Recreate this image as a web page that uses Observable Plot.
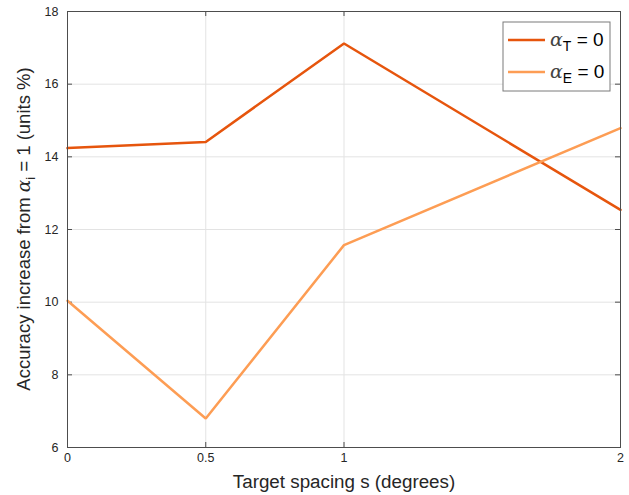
<!DOCTYPE html>
<html><head><meta charset="utf-8">
<script src="https://cdn.jsdelivr.net/npm/d3@7"></script>
<script src="https://cdn.jsdelivr.net/npm/@observablehq/plot@0.6"></script>
<style>body{margin:0;background:#fff} #chart{width:629px;height:495px}</style>
</head><body><div id="chart"></div>
<script>
const spacing = [0, 0.5, 1, 2];
const alphaT0 = [14.24, 14.41, 17.12, 12.54];
const alphaE0 = [10.04, 6.80, 11.57, 14.79];
const seriesKeys = ["T", "E"];
const seriesColors = ["#e6550d", "#fd9d54"];
const xTicks = [0, 0.5, 1, 2];
const yTicks = [6, 8, 10, 12, 14, 16, 18];
const xLabel = "Target spacing s (degrees)";

const rows = [];
spacing.forEach((s, i) => rows.push({s, v: alphaT0[i], k: "T"}));
spacing.forEach((s, i) => rows.push({s, v: alphaE0[i], k: "E"}));

const W = 629, H = 495, ML = 67, MR = 9, MT = 11, MB = 48;
const fw = W - ML - MR, fh = H - MT - MB;
const axisCol = "#4d4d4d";
const FONT = "'Liberation Sans', Arial, sans-serif";

const chart = Plot.plot({
  width: W, height: H,
  marginLeft: ML, marginRight: MR, marginTop: MT, marginBottom: MB,
  style: {fontFamily: FONT, background: "#fff"},
  x: {domain: [0, 2], axis: null},
  y: {domain: [6, 18], axis: null},
  color: {domain: seriesKeys, range: seriesColors},
  marks: [
    Plot.gridX(xTicks, {stroke: "#e3e3e3", strokeOpacity: 1}),
    Plot.gridY(yTicks, {stroke: "#e3e3e3", strokeOpacity: 1}),
    Plot.text(xTicks, {x: d => d, frameAnchor: "bottom", dy: 14, text: d => String(d), fontSize: 12.5, fill: "#262626", textAnchor: "middle"}),
    Plot.text(yTicks, {y: d => d, frameAnchor: "left", dx: -9, text: d => String(d), fontSize: 12.5, fill: "#262626", textAnchor: "end"}),
    Plot.tickX(xTicks, {x: d => d, insetTop: fh - 5, stroke: axisCol}),
    Plot.tickX(xTicks, {x: d => d, insetBottom: fh - 5, stroke: axisCol}),
    Plot.tickY(yTicks, {y: d => d, insetRight: fw - 5, stroke: axisCol}),
    Plot.tickY(yTicks, {y: d => d, insetLeft: fw - 5, stroke: axisCol}),
    Plot.line(rows, {x: "s", y: "v", z: "k", stroke: "k", strokeWidth: 2.5, strokeLinejoin: "miter"}),
    Plot.frame({stroke: axisCol, strokeWidth: 1}),
    Plot.text([xLabel], {frameAnchor: "bottom", dy: 34, text: d => d, fontSize: 18.8, fill: "#262626", lineAnchor: "middle"})
  ]
});
document.getElementById("chart").appendChild(chart);

const svg = d3.select(chart);
// Y axis label with subscript
const yl = svg.append("text")
  .attr("transform", `translate(30,${MT + fh / 2}) rotate(-90)`)
  .attr("text-anchor", "middle")
  .attr("font-size", 18.5).attr("fill", "#262626")
  .attr("font-family", FONT);
yl.append("tspan").text("Accuracy increase from ");
yl.append("tspan").text("α").attr("font-family", "'DejaVu Serif', serif").attr("font-style", "italic");
yl.append("tspan").text("i").attr("font-size", 13).attr("dy", 5);
yl.append("tspan").text(" = 1 (units %)").attr("dy", -5);

// Legend
const lg = svg.append("g").attr("transform", "translate(503,22)");
lg.append("rect").attr("width", 107).attr("height", 69).attr("fill", "#fff").attr("stroke", "#7a7a7a").attr("stroke-width", 1);
seriesKeys.forEach((k, i) => {
  const y = 18 + i * 32;
  lg.append("line").attr("x1", 5).attr("x2", 42).attr("y1", y).attr("y2", y)
    .attr("stroke", seriesColors[i]).attr("stroke-width", 2.5);
  const t = lg.append("text").attr("x", 47).attr("y", y + 6).attr("font-size", 19).attr("fill", "#000")
    .attr("text-anchor", "start")
    .attr("font-family", FONT);
  t.append("tspan").text("α").attr("font-family", "'DejaVu Serif', serif").attr("font-style", "italic").attr("fill", "#444");
  t.append("tspan").text(k).attr("font-size", 14).attr("dy", 5);
  t.append("tspan").text(" = 0").attr("dy", -5);
});
</script>
</body></html>
